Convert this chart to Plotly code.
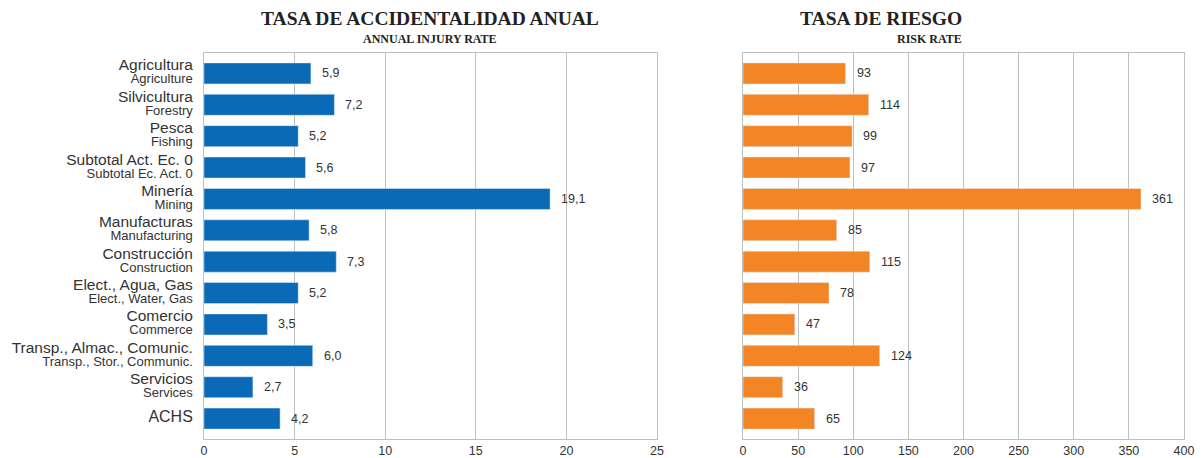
import plotly.graph_objects as go

categories_es = ["Agricultura", "Silvicultura", "Pesca", "Subtotal Act. Ec. 0", "Minería",
                 "Manufacturas", "Construcción", "Elect., Agua, Gas", "Comercio",
                 "Transp., Almac., Comunic.", "Servicios", "ACHS"]
categories_en = ["Agriculture", "Forestry", "Fishing", "Subtotal Ec. Act. 0", "Mining",
                 "Manufacturing", "Construction", "Elect., Water, Gas", "Commerce",
                 "Transp., Stor., Communic.", "Services", ""]
injury_rate = [5.9, 7.2, 5.2, 5.6, 19.1, 5.8, 7.3, 5.2, 3.5, 6.0, 2.7, 4.2]
risk_rate = [93, 114, 99, 97, 361, 85, 115, 78, 47, 124, 36, 65]
injury_ticks = [0, 5, 10, 15, 20, 25]
risk_ticks = [0, 50, 100, 150, 200, 250, 300, 350, 400]

BLUE = "#0a6ab7"
ORANGE = "#f38524"
GRID = "#c0c0c0"
TXT = "#333333"
SANS = "Liberation Sans, Arial, sans-serif"
SERIF = "Liberation Serif, Times New Roman, serif"

idx = list(range(len(categories_es)))
ticktext = []
for es, en in zip(categories_es, categories_en):
    if en:
        ticktext.append(f"<span style='font-size:15.5px'>{es}</span><br>"
                        f"<span style='font-size:13px'>{en}</span>")
    else:
        ticktext.append(f"<span style='font-size:16px'>{es}</span>")

fig = go.Figure()
fig.add_trace(go.Bar(x=injury_rate, y=idx, orientation="h", marker_color=BLUE,
                     width=0.67, xaxis="x", yaxis="y", hoverinfo="x"))
fig.add_trace(go.Bar(x=risk_rate, y=idx, orientation="h", marker_color=ORANGE,
                     width=0.67, xaxis="x2", yaxis="y2", hoverinfo="x"))

annotations = []
for i, v in enumerate(injury_rate):
    annotations.append(dict(x=v, y=i, xref="x", yref="y", text=f"{v:.1f}".replace(".", ","),
                            showarrow=False, xanchor="left", xshift=9,
                            font=dict(family=SANS, size=12.5, color=TXT)))
for i, v in enumerate(risk_rate):
    annotations.append(dict(x=v, y=i, xref="x2", yref="y2", text=f"{v}",
                            showarrow=False, xanchor="left", xshift=9,
                            font=dict(family=SANS, size=12.5, color=TXT)))

H, T, B = 458, 53, 19
ph = H - T - B
L1, R1 = 204 / 1202, 657 / 1202
L2, R2 = 743 / 1202, 1184 / 1202

titles = [
    ((L1 + R1) / 2, 19, "<b>TASA DE ACCIDENTALIDAD ANUAL</b>", 19.5),
    ((L1 + R1) / 2, 39, "<b>ANNUAL INJURY RATE</b>", 12),
    ((L2 + R2) / 2, 19, "<b>TASA DE RIESGO</b>", 19.5),
    ((L2 + R2) / 2, 39, "<b>RISK RATE</b>", 12),
]
for x, ypx, txt, sz in titles:
    annotations.append(dict(x=x, y=1 + (T - ypx) / ph, xref="paper", yref="paper",
                            yanchor="middle", text=txt, showarrow=False,
                            font=dict(family=SERIF, size=sz, color="#222222")))

axis_common = dict(showgrid=True, gridcolor=GRID, gridwidth=1.3, showline=True,
                   linecolor=GRID, linewidth=1.3, mirror=True, zeroline=False,
                   ticks="", tickfont=dict(family=SANS, size=12.5, color=TXT),
                   automargin=False, fixedrange=True)

fig.update_layout(
    width=1202, height=458,
    margin=dict(l=0, r=0, t=T, b=B, pad=0),
    paper_bgcolor="white", plot_bgcolor="white",
    showlegend=False,
    bargap=0.3,
    annotations=annotations,
    xaxis=dict(domain=[L1, R1], range=[0, 25], tickvals=injury_ticks,
               anchor="y", **axis_common),
    yaxis=dict(domain=[0, 1], range=[11.65, -0.65], tickvals=idx, ticktext=ticktext,
               showgrid=False, showline=True, linecolor=GRID, linewidth=1.3, mirror=True,
               zeroline=False, ticks="", ticklabelstandoff=8,
               tickfont=dict(family=SANS, size=10, color=TXT), automargin=False,
               anchor="x", fixedrange=True),
    xaxis2=dict(domain=[L2, R2], range=[0, 400], tickvals=risk_ticks,
                anchor="y2", **axis_common),
    yaxis2=dict(domain=[0, 1], range=[11.65, -0.65], tickvals=idx, showticklabels=False,
                showgrid=False, showline=True, linecolor=GRID, linewidth=1.3, mirror=True,
                zeroline=False, ticks="", automargin=False, anchor="x2", fixedrange=True),
)

fig.write_html("out.html", config={"displayModeBar": False},
               post_script="document.body.style.margin='0';document.body.style.overflow='hidden';")
